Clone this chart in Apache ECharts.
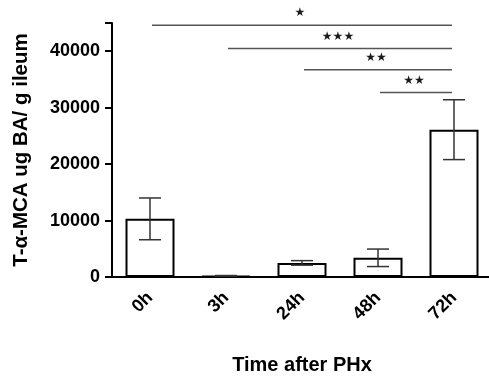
<!DOCTYPE html>
<html>
<head>
<meta charset="utf-8">
<script src="https://cdn.jsdelivr.net/npm/echarts@6/dist/echarts.min.js"></script>
<style>
  html, body { margin: 0; padding: 0; background: #fff; }
  #chart { width: 489px; height: 379px; }
</style>
</head>
<body>
<div id="chart"></div>
<script>
// Time points after partial hepatectomy
const categories = ['0h', '3h', '24h', '48h', '72h'];
// Mean T-α-MCA (ug BA / g ileum)
const means = [10300, 200, 2500, 3400, 26100];
// Error (± SEM)
const errors = [3700, 60, 400, 1550, 5300];
// Significance brackets: [from index, to index, height, stars]
const brackets = [
  [0, 4, 44600, '★'],
  [1, 4, 40500, '★★★'],
  [2, 4, 36700, '★★'],
  [3, 4, 32700, '★★']
];
const yTicks = [0, 10000, 20000, 30000, 40000];

const FONT = 'Liberation Sans, Arial, sans-serif';
const chart = echarts.init(document.getElementById('chart'), null, { renderer: 'canvas' });

chart.setOption({
  animation: false,
  backgroundColor: '#fff',
  grid: { left: 112, right: -3, top: 23, bottom: 102, outerBoundsMode: 'none', containLabel: false },
  xAxis: {
    type: 'category',
    data: categories,
    name: 'Time after PHx',
    nameLocation: 'middle',
    nameGap: 78,
    nameTextStyle: { fontFamily: FONT, fontWeight: 'bold', fontSize: 20, color: '#000' },
    axisLine: { lineStyle: { color: '#000', width: 2 } },
    axisTick: { alignWithLabel: true, length: 8, lineStyle: { color: '#000', width: 2 } },
    axisLabel: {
      rotate: 45, margin: 18, fontFamily: FONT, fontWeight: 'bold', fontSize: 18, color: '#000'
    }
  },
  yAxis: {
    type: 'value',
    min: 0, max: 45000, interval: 10000,
    name: 'T-α-MCA ug BA/ g ileum',
    nameLocation: 'middle',
    nameGap: 80,
    nameTextStyle: { fontFamily: FONT, fontWeight: 'bold', fontSize: 20.5, color: '#000' },
    splitLine: { show: false },
    axisLine: { show: true, lineStyle: { color: '#000', width: 2 } },
    axisTick: { show: true, length: 7, lineStyle: { color: '#000', width: 2 } },
    axisLabel: {
      margin: 12, fontFamily: FONT, fontWeight: 'bold', fontSize: 18, color: '#000',
      formatter: v => (yTicks.indexOf(v) >= 0 ? String(v) : '')
    }
  },
  series: [
    {
      type: 'bar',
      data: means,
      barWidth: 49,
      itemStyle: { color: '#fff', borderColor: '#000', borderWidth: 2 },
      z: 2
    },
    {
      // error bars
      type: 'custom',
      data: means.map((m, i) => [i, m - errors[i], m + errors[i]]),
      renderItem: function (params, api) {
        const lo = api.coord([api.value(0), api.value(1)]);
        const hi = api.coord([api.value(0), api.value(2)]);
        const half = 11;
        const style = { stroke: '#333', lineWidth: 1.5 };
        return {
          type: 'group',
          children: [
            { type: 'line', shape: { x1: hi[0], y1: hi[1], x2: lo[0], y2: lo[1] }, style },
            { type: 'line', shape: { x1: hi[0] - half, y1: hi[1], x2: hi[0] + half, y2: hi[1] }, style },
            { type: 'line', shape: { x1: lo[0] - half, y1: lo[1], x2: lo[0] + half, y2: lo[1] }, style }
          ]
        };
      },
      z: 3
    },
    {
      // significance brackets
      type: 'custom',
      data: brackets,
      renderItem: function (params, api) {
        const a = api.coord([api.value(0), api.value(2)]);
        const b = api.coord([api.value(1), api.value(2)]);
        const label = brackets[params.dataIndex][3];
        return {
          type: 'group',
          children: [
            { type: 'line', shape: { x1: a[0] + 2, y1: a[1], x2: b[0] - 2, y2: b[1] },
              style: { stroke: '#555', lineWidth: 1.5 } },
            { type: 'text',
              style: { text: label, x: (a[0] + b[0]) / 2 - 2, y: a[1] - 12, align: 'center',
                verticalAlign: 'middle', fill: '#1a1a1a', fontSize: 12,
                fontFamily: 'DejaVu Sans, sans-serif' } }
          ]
        };
      },
      z: 4
    }
  ]
});
</script>
</body>
</html>
